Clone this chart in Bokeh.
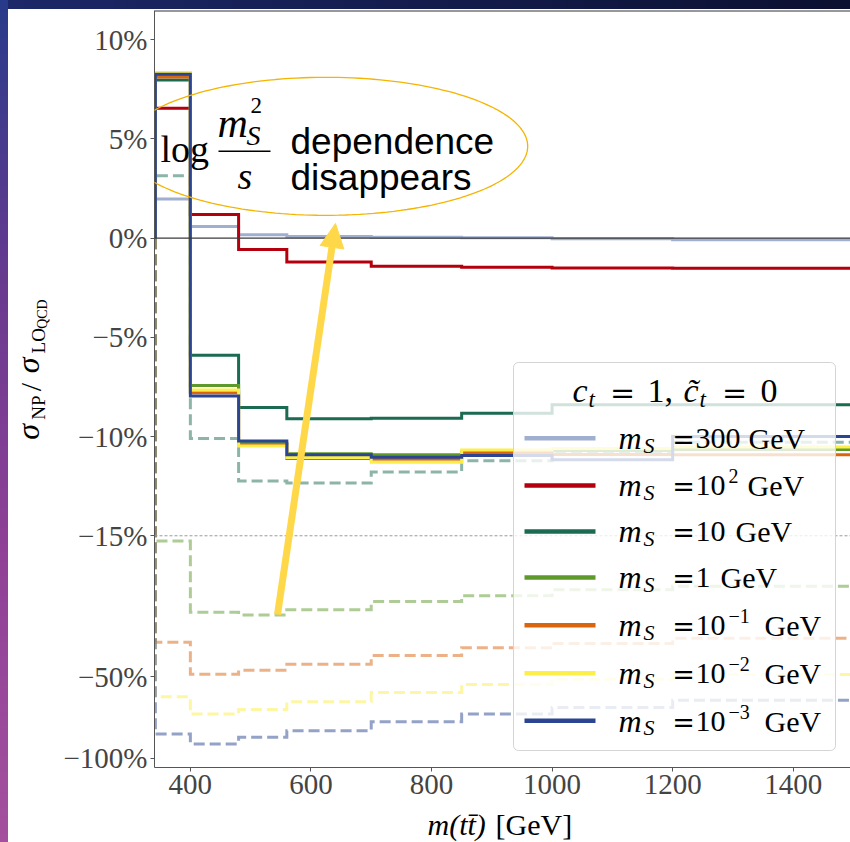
import numpy as np
from bokeh.plotting import figure
from bokeh.layouts import row, column
from bokeh.models import (Range1d, FixedTicker, Span, Label, BoxAnnotation,
                          PolyAnnotation, Arrow, NormalHead)
from bokeh.embed import file_html
from bokeh.resources import INLINE

# ---------------- data (percent) ----------------
edges = [342, 400, 480, 560, 700, 850, 1000, 1200, 1500]

solid_300 = [1.98, 0.59, 0.17, 0.08, 0.05, 0.02, -0.03, -0.08]
solid_100 = [6.55, 1.20, -0.57, -1.20, -1.42, -1.46, -1.50, -1.52]
solid_10 = [7.97, -5.90, -8.54, -9.10, -9.08, -8.83, -8.40, -8.40]
solid_1 = [8.15, -7.43, -10.35, -10.87, -10.92, -10.80, -10.70, -10.65]
solid_01 = [8.13, -7.79, -10.40, -11.10, -11.14, -10.78, -10.90, -10.92]
solid_001 = [8.35, -7.65, -10.47, -11.05, -11.29, -10.67, -10.60, -10.53]
solid_0001 = [8.26, -7.95, -10.22, -10.92, -11.04, -10.95, -11.17, -10.00]

dashed_10 = [3.15, -10.10, -12.24, -12.34, -11.79, -11.22, -10.80, -10.28]
dashed_1 = [-15.7, -28.8, -29.5, -28.2, -26.3, -25.0, -23.8, -23.1]
dashed_01 = [-37.2, -48.9, -47.3, -44.9, -41.7, -39.0, -37.6, -36.0]
dashed_001 = [-59.3, -68.7, -66.0, -61.8, -57.2, -53.4, -51.0, -49.0]
dashed_0001 = [-81.4, -88.6, -83.8, -79.2, -73.4, -68.7, -65.0, -61.0]

x_ticks = [400, 600, 800, 1000, 1200, 1400]
y_ticks = [10, 5, 0, -5, -10, -15, -50, -100]
y_tick_labels = ["10%", "5%", "0%", "\u22125%", "\u221210%", "\u221215%", "\u221250%", "\u2212100%"]

colors = {
    "300": "#a0aed0", "100": "#b4000c", "10": "#1b6a52", "1": "#5e9a2b",
    "0.1": "#d9660f", "0.01": "#fcef4a", "0.001": "#2b4592",
}

# ---------------- axis transform: linear above -15%, log below ----------------
LIN = 15.0
K = 13.6


def tr(v):
    v = np.asarray(v, dtype=float)
    out = v.copy()
    m = v < -LIN
    out[m] = -LIN - K * np.log10(-v[m] / LIN)
    return out


def step_xy(vals):
    e = np.asarray(edges, dtype=float)
    xs = np.repeat(e, 2)
    ys = np.concatenate([[0.0], np.repeat(np.asarray(vals, float), 2), [0.0]])
    return xs, tr(ys)


X0, X1 = 340.5, 1495.0
YT, YB = 11.477, -26.68

# page layout (page pixels): whole block starts at (8, 9)
OX, OY = 8, 9
SPLIT_X = 52      # ylabel strip | main figure
SPLIT_Y = 808     # main figure  | xlabel strip
FL, FR, FT, FB = 154.0, 850.0, 10.0, 767.0   # plot frame in page pixels

p = figure(width=850 - SPLIT_X, height=SPLIT_Y - OY, output_backend="svg",
           toolbar_location=None,
           x_range=Range1d(X0, X1), y_range=Range1d(YB, YT),
           min_border_left=int(FL - SPLIT_X), min_border_right=0,
           min_border_top=int(FT - OY), min_border_bottom=int(SPLIT_Y - FB))
p.background_fill_color = "white"
p.border_fill_color = "white"
p.outline_line_color = None
p.grid.visible = False


def X(px):
    return X0 + (px - FL) / (FR - FL) * (X1 - X0)


def Y(py):
    return YT - (py - FT) / (FB - FT) * (YT - YB)


BL = 0.34  # baseline correction (fraction of font size)


def lab(txt, px, py, size, font="Liberation Serif", style="normal", align="left",
        color="black"):
    p.add_layout(Label(x=X(px), y=Y(py - BL * size), text=txt, text_font=font,
                       text_font_size=f"{size}px", text_font_style=style,
                       text_align=align, text_baseline="alphabetic",
                       text_color=color))


# ---------------- reference lines ----------------
p.add_layout(Span(location=float(tr([-15])[0]), dimension="width", line_color="#9a9a9a",
                  line_width=1, line_dash="3 2"))

for vals, key in [(dashed_10, "10"), (dashed_1, "1"), (dashed_01, "0.1"),
                  (dashed_001, "0.01"), (dashed_0001, "0.001")]:
    xs, ys = step_xy(vals)
    p.line(xs, ys, line_color=colors[key], line_alpha=0.5, line_width=3,
           line_dash="11 5", line_join="miter")

for vals, key in [(solid_300, "300"), (solid_100, "100"), (solid_10, "10"),
                  (solid_1, "1"), (solid_01, "0.1"), (solid_001, "0.01"),
                  (solid_0001, "0.001")]:
    xs, ys = step_xy(vals)
    p.line(xs, ys, line_color=colors[key], line_width=3, line_join="miter")

p.add_layout(Span(location=0, dimension="width", line_color="#3a3a3a", line_width=1.3))
p.add_layout(Span(location=YT, dimension="width", line_color="#333333", line_width=2))

# ---------------- axes ----------------
TICKFONT = "Liberation Serif"
p.xaxis.ticker = FixedTicker(ticks=x_ticks)
ypos = [round(float(v), 6) for v in tr(y_ticks)]
p.yaxis.ticker = FixedTicker(ticks=ypos)
p.yaxis.major_label_overrides = {k: s for k, s in zip(ypos, y_tick_labels)}
for ax in (p.xaxis, p.yaxis):
    ax.major_label_text_font = TICKFONT
    ax.major_label_text_font_size = "29px"
    ax.major_label_standoff = 3
    ax.major_tick_out = 4
    ax.major_tick_in = 0
    ax.minor_tick_out = 0
    ax.minor_tick_in = 0
    ax.axis_line_color = "#555555"
    ax.major_tick_line_color = "#555555"

EQ = "DejaVu Serif"

# ---------------- legend (manual) ----------------
p.add_layout(BoxAnnotation(left=X(513), right=X(835), top=Y(362), bottom=Y(750),
                           fill_color="white", fill_alpha=0.8,
                           line_color="#d4d4d4", line_alpha=1.0, line_width=1,
                           line_dash="solid", border_radius=5))

tb = 401.7
lab("c", 572, tb, 34, style="italic")
lab("t", 588, tb + 5, 23, style="italic")
lab("=", 622, tb, 30, font=EQ, align="center")
lab("1,", 647, tb, 34)
lab("c\u0303", 683, tb, 34, style="italic")
lab("t", 699, tb + 5, 23, style="italic")
lab("=", 734, tb, 30, font=EQ, align="center")
lab("0", 760, tb, 34)

rows = [("300", None, 748, "300"), ("10", "2", 747, "100"), ("10", None, 735, "10"),
        ("1", None, 720, "1"), ("10", "\u22121", 764, "0.1"),
        ("10", "\u22122", 764, "0.01"), ("10", "\u22123", 764, "0.001")]
sw_y = [437.7, 485.0, 531.0, 577.0, 624.7, 672.7, 720.3]
for (num, sup, gx, key), sy in zip(rows, sw_y):
    p.add_layout(BoxAnnotation(left=X(524), right=X(595), top=Y(sy - 2.2), bottom=Y(sy + 2.2),
                               fill_color=colors[key], fill_alpha=1.0, line_color=None))
    b = sy + 10.6
    lab("m", 618, b, 32, style="italic")
    lab("S", 643, b + 4, 22, style="italic")
    lab("=", 683, b, 27, font=EQ, align="center")
    lab(num, 695, b, 30)
    if sup:
        lab(sup, 728, b - 13, 20)
    lab("GeV", gx, b, 30)

# ---------------- annotation: ellipse, text, arrow ----------------
th = np.linspace(0, 2 * np.pi, 180)
ex = [X(325.7 + 201.5 * np.cos(t)) for t in th]
ey = [Y(145.8 + 69.0 * np.sin(t)) for t in th]
p.add_layout(PolyAnnotation(xs=ex, ys=ey, fill_alpha=0.0, line_color="#f4b400",
                            line_alpha=1.0, line_width=1.3))

lab("log", 160, 161, 38)
lab("m", 217, 136.7, 42, style="italic")
lab("S", 246, 145, 28, style="italic")
lab("2", 250, 113, 23)
p.add_layout(BoxAnnotation(left=X(218), right=X(270), top=Y(149.9), bottom=Y(151.5),
                           fill_color="black", fill_alpha=1.0, line_color=None))
lab("s", 237, 188, 38, style="italic")
lab("dependence", 290, 153.3, 37, font="Liberation Sans")
lab("disappears", 290, 190, 37, font="Liberation Sans")

YEL = "#ffd84a"
p.add_layout(Arrow(x_start=X(277), y_start=Y(614), x_end=X(335), y_end=Y(223),
                   line_color=YEL, line_width=7,
                   end=NormalHead(size=24, fill_color=YEL, line_color=YEL)))


# ---------------- label strips (own small figures, page-pixel coordinates) ----------------
def strip(w, h, x0, x1, ytop, ybot):
    f = figure(width=w, height=h, output_backend="svg", toolbar_location=None,
               x_range=Range1d(x0, x1), y_range=Range1d(ybot, ytop),
               x_axis_type=None, y_axis_type=None,
               min_border_left=0, min_border_right=0, min_border_top=0,
               min_border_bottom=0)
    f.outline_line_color = None
    f.background_fill_color = "white"
    f.border_fill_color = "white"
    return f


ylab_fig = strip(SPLIT_X - OX, SPLIT_Y - OY, OX, SPLIT_X, OY, SPLIT_Y)
xlab_fig = strip(850 - OX, 842 - SPLIT_Y, OX, 850, SPLIT_Y, 842)

A = np.pi / 2


def ylab(txt, base_x, start_y, size, style="normal"):
    ylab_fig.add_layout(Label(x=base_x - BL * size, y=start_y, text=txt,
                              text_font="Liberation Serif", text_font_size=f"{size}px",
                              text_font_style=style, text_align="left",
                              text_baseline="alphabetic", angle=A, text_color="black"))


ylab("\u03c3", 38, 462, 32, style="italic")
ylab("NP", 44, 441, 19)
ylab("/", 40, 411, 30)
ylab("\u03c3", 38, 392, 32, style="italic")
ylab("LO", 44, 371, 19)
ylab("QCD", 47, 345, 14)


def xlab(txt, px, base_y, size, style="normal"):
    xlab_fig.add_layout(Label(x=px, y=base_y - BL * size, text=txt,
                              text_font="Liberation Serif", text_font_size=f"{size}px",
                              text_font_style=style, text_align="left",
                              text_baseline="alphabetic", text_color="black"))


xlab("m(tt\u0304)", 427, 834, 30, style="italic")
xlab("[GeV]", 495, 834, 30)

layout = column(row(ylab_fig, p, spacing=0), xlab_fig, spacing=0)

html = file_html(layout, INLINE)
style = (
    "<style>html{margin:0!important;padding:0!important;overflow:hidden;background:#ffffff;}"
    f"body{{margin:0!important;padding:{OY}px 0 0 {OX}px!important;overflow:hidden;"
    "background:linear-gradient(180deg,#283a8a 0%,#6a3a90 35%,#8e4196 65%,#a4509e 100%) left top/8px 100% no-repeat,"
    "linear-gradient(90deg,#1c2868 0%,#0b1030 100%) left top/100% 9px no-repeat,#ffffff!important;}"
    "</style>"
)
html = html.replace("</head>", style + "</head>", 1)
open("out.html", "w").write(html)
